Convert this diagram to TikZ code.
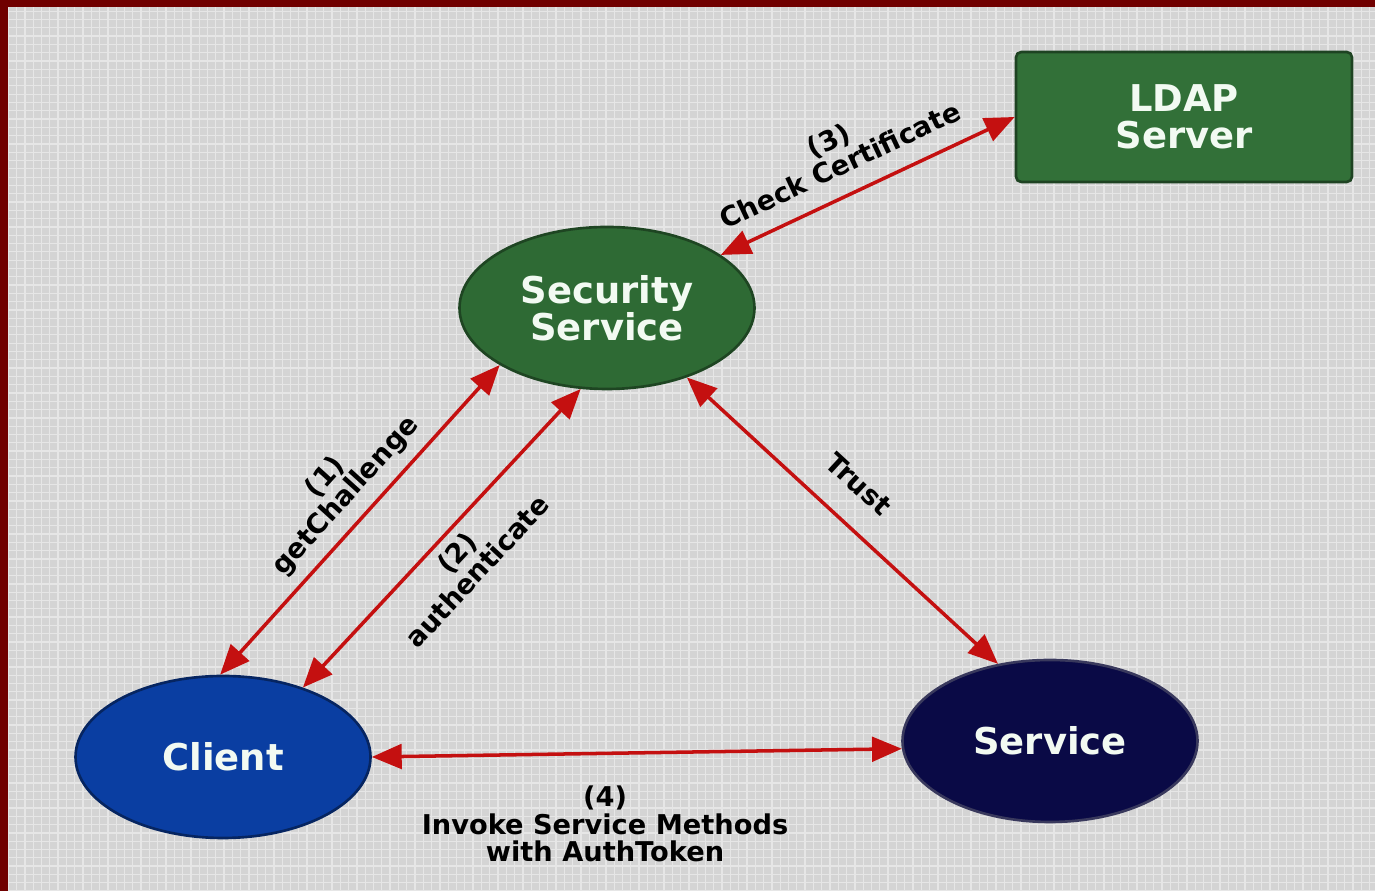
\documentclass[tikz,border=0pt]{standalone}
\usepackage{fontspec}
\setmainfont{DejaVu Sans}
\usetikzlibrary{arrows.meta,shapes.geometric}
\definecolor{framered}{RGB}{112,0,0}
\definecolor{paper}{RGB}{212,212,212}
\definecolor{paperline}{RGB}{230,230,230}
\definecolor{secgreen}{RGB}{46,106,52}
\definecolor{ldapgreen}{RGB}{50,112,56}
\definecolor{clientblue}{RGB}{10,62,162}
\definecolor{svcnavy}{RGB}{10,10,70}
\definecolor{arrowred}{RGB}{196,16,16}
\definecolor{nodetext}{RGB}{242,250,242}
\begin{document}
\begin{tikzpicture}[
  blob/.style={ellipse, inner sep=0pt, line width=1.5pt, minimum width=5.9cm, minimum height=3.24cm,
    text=nodetext, align=center, font=\fontsize{21}{21}\selectfont\bfseries},
  box/.style={rectangle, rounded corners=3pt, inner sep=0pt, line width=1.5pt,
    text=nodetext, align=center, font=\fontsize{21}{21}\selectfont\bfseries},
  link/.style={draw=arrowred, line width=2pt,
    {Triangle[length=17pt,width=14pt]}-{Triangle[length=17pt,width=14pt]}},
  lbl/.style={text=black, align=center, inner sep=2pt,
    font=\fontsize{15.5}{15.5}\selectfont\bfseries}
]
  \useasboundingbox (0,0) rectangle (27.5,17.82);
  % frame and grid paper
  \fill[framered] (0,0) rectangle (27.5,17.82);
  \fill[paper] (0.16,0) rectangle (27.5,17.68);
  \draw[paperline, line width=0.7pt, step=0.166] (0.16,0) grid (27.5,17.68);

  \node[blob, fill=secgreen, draw=secgreen!65!black] (sec) at (12.14,11.66) {Security\\Service};
  \node[box, fill=ldapgreen, draw=ldapgreen!60!black, minimum width=6.72cm, minimum height=2.6cm]
    (ldap) at (23.68,15.48) {LDAP\\Server};
  \node[blob, fill=clientblue, draw=clientblue!60!black] (cl) at (4.46,2.68) {Client};
  \node[blob, fill=svcnavy, draw=svcnavy!60!gray] (svc) at (21.0,3.0) {Service};

  \draw[link] (sec.25) -- node[lbl, sloped, above=0.3cm, pos=.45] {(3)\\Check Certificate} (ldap.west);
  \draw[link] (cl.92) -- node[lbl, sloped, above=0.15cm, pos=.52] {(1)\\getChallenge} (sec.208);
  \draw[link] (cl.41) -- node[lbl, sloped, below=0.1cm, pos=.5] {(2)\\authenticate} (sec.252);
  \draw[link] (sec.319) -- node[lbl, sloped, above=0.45cm, pos=.47] {Trust} (svc.124);
  \draw[link] (cl.east) -- node[lbl, below=0.55cm, pos=.44] {(4)\\Invoke Service Methods\\with AuthToken} (svc.183);

%  \draw[link] (cl.30) -- (svc.150);
\end{tikzpicture}
\end{document}
